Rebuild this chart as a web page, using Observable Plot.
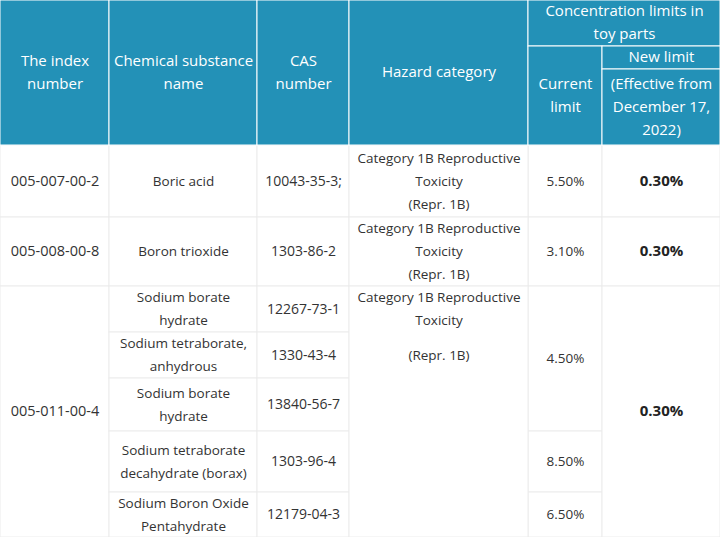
<!DOCTYPE html>
<html>
<head>
<meta charset="utf-8">
<script src="https://cdn.jsdelivr.net/npm/d3@7"></script>
<script src="https://cdn.jsdelivr.net/npm/@observablehq/plot@0.6"></script>
<style>
  html, body { margin: 0; padding: 0; background: #fff; }
</style>
</head>
<body>
<div id="chart"></div>
<script>
// ---- Data ----
const headerMain = ["The index\nnumber", "Chemical substance\nname", "CAS\nnumber", "Hazard category", "Concentration limits in\ntoy parts"];
const headerSub = ["Current\nlimit", "New limit", "(Effective from\nDecember 17,\n2022)"];
const indexNumbers = ["005-007-00-2", "005-008-00-8", "005-011-00-4"];
const indexSpan = [1, 1, 5];
const substances = ["Boric acid", "Boron trioxide", "Sodium borate\nhydrate", "Sodium tetraborate,\nanhydrous", "Sodium borate\nhydrate", "Sodium tetraborate\ndecahydrate (borax)", "Sodium Boron Oxide\nPentahydrate"];
const casNumbers = ["10043-35-3;", "1303-86-2", "12267-73-1", "1330-43-4", "13840-56-7", "1303-96-4", "12179-04-3"];
const hazardMain = ["Category 1B Reproductive\nToxicity", "Category 1B Reproductive\nToxicity", "Category 1B Reproductive\nToxicity"];
const hazardNote = ["(Repr. 1B)", "(Repr. 1B)", "(Repr. 1B)"];
const currentLimits = ["5.50%", "3.10%", "4.50%", "8.50%", "6.50%"];
const currentSpan = [1, 1, 3, 1, 1];
const newLimits = ["0.30%", "0.30%", "0.30%"];
const newSpan = [1, 1, 5];

// ---- Layout ----
const W = 720, H = 537;
const col = [0, 109, 257, 349, 528, 602, 720];
const hdr = [0, 46, 69, 145];
const rows = [145, 217, 286, 332, 378, 431, 492, 537];
const HEAD = "#2391b7", GRID = "#ececec", INK = "#333333";
const SHIFT = -3;

const headCells = [];
for (let i = 0; i < 4; i++) headCells.push({x1: col[i], x2: col[i + 1], y1: hdr[0], y2: hdr[3], text: headerMain[i]});
headCells.push({x1: col[4], x2: col[6], y1: hdr[0], y2: hdr[1], text: headerMain[4]});
headCells.push({x1: col[4], x2: col[5], y1: hdr[1], y2: hdr[3], text: headerSub[0]});
headCells.push({x1: col[5], x2: col[6], y1: hdr[1], y2: hdr[2], text: headerSub[1]});
headCells.push({x1: col[5], x2: col[6], y1: hdr[2], y2: hdr[3], text: headerSub[2]});

function spanned(values, spans, c, extra) {
  let r = 0;
  return values.map((v, i) => {
    const cell = {x1: col[c], x2: col[c + 1], y1: rows[r], y2: rows[r + spans[i]], text: v, ...(extra ? extra(i) : {})};
    r += spans[i];
    return cell;
  });
}
const indexCells = spanned(indexNumbers, indexSpan, 0);
const substanceCells = spanned(substances, substances.map(() => 1), 1);
const casCells = spanned(casNumbers, casNumbers.map(() => 1), 2);
const currentCells = spanned(currentLimits, currentSpan, 4);
const newCells = spanned(newLimits, newSpan, 5);
const hazardCells = spanned(hazardMain, indexSpan, 3, i => ({note: hazardNote[i]}));
const hazardCentered = hazardCells.filter((d, i) => indexSpan[i] === 1).map(d => ({...d, text: d.text + "\n" + d.note}));
const hazardTop = hazardCells.filter((d, i) => indexSpan[i] > 1);

const allBody = [...indexCells, ...substanceCells, ...casCells, ...currentCells, ...newCells, ...hazardCells];

const mid = d => (d.y1 + d.y2) / 2 + SHIFT;
const cx = d => (d.x1 + d.x2) / 2;
const txt = (data, size, extra = {}) => Plot.text(data, {x: cx, y: mid, text: "text", fill: INK, fontSize: size, lineHeight: 23 / size, lineAnchor: "middle", ...extra});

const chart = Plot.plot({
  width: W, height: H,
  margin: 0,
  x: {domain: [0, W], range: [0, W], axis: null},
  y: {domain: [0, H], range: [0, H], axis: null},
  style: {fontFamily: "'Open Sans', sans-serif", background: "#fff"},
  marks: [
    Plot.rect(allBody, {x1: "x1", x2: "x2", y1: "y1", y2: "y2", fill: "#fff", stroke: GRID, strokeWidth: 1}),
    Plot.rect(headCells, {x1: "x1", x2: "x2", y1: "y1", y2: "y2", fill: HEAD, stroke: "#fff", strokeWidth: 1}),
    Plot.text(headCells, {x: cx, y: mid, text: "text", fill: "#fff", fontSize: 15, lineHeight: 23 / 15, lineAnchor: "middle"}),
    txt(indexCells, 14.5),
    txt(substanceCells, 13.5),
    txt(casCells, 14),
    txt(currentCells, 13.5),
    txt(hazardCentered, 13.5),
    txt(newCells, 15, {fill: "#222", fontWeight: "bold"}),
    Plot.text(hazardTop, {x: cx, y: d => d.y1 + 12 + SHIFT, text: "text", fill: INK, fontSize: 13.5, lineHeight: 23 / 13.5, lineAnchor: "top", dy: -10}),
    Plot.text(hazardTop, {x: cx, y: d => d.y1 + 72 + SHIFT, text: "note", fill: INK, fontSize: 13.5, lineAnchor: "middle"})
  ]
});
document.getElementById("chart").appendChild(chart);
</script>
</body>
</html>
